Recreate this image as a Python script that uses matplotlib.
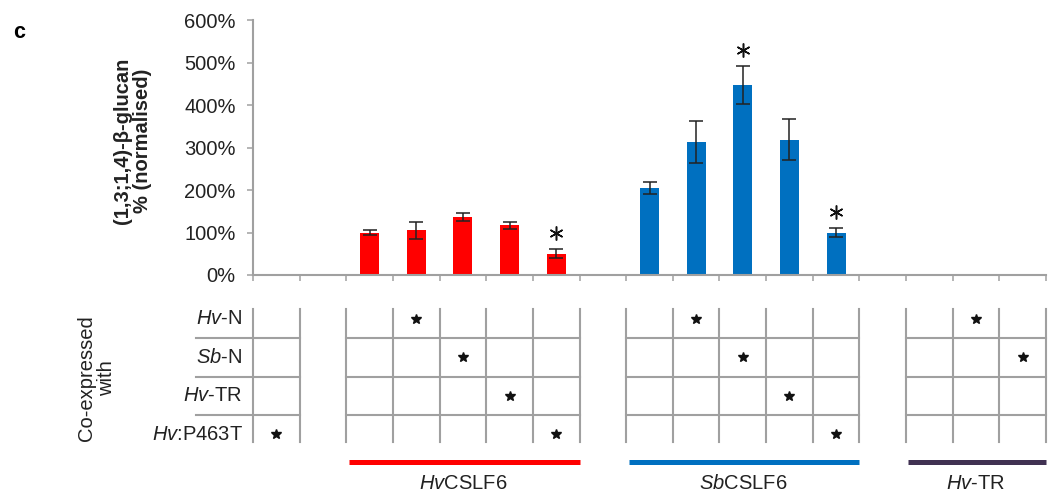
import matplotlib
matplotlib.use('Agg')
import matplotlib.pyplot as plt
import matplotlib.transforms as mtransforms
import numpy as np

plt.rcParams['font.family'] = ['Liberation Sans', 'DejaVu Sans']
plt.rcParams['mathtext.fontset'] = 'custom'
plt.rcParams['mathtext.rm'] = 'Liberation Sans'
plt.rcParams['mathtext.it'] = 'Liberation Sans:italic'

# data (% normalised)
hv_vals = [100, 105, 137, 117, 50]
hv_err = [6, 19, 10, 8, 11]
hv_sig = [False, False, False, False, True]
sb_vals = [206, 313, 448, 319, 100]
sb_err = [14, 49, 44, 49, 10]
sb_sig = [False, False, True, False, True]

row_labels = [r'$\it{Hv}$-N', r'$\it{Sb}$-N', r'$\it{Hv}$-TR', r'$\it{Hv}$:P463T']
# which co-expressed row gets a star in each column (None = nothing)
single_rows = [3]
hv_rows = [None, 0, 1, 2, 3]
sb_rows = [None, 0, 1, 2, 3]
tr_rows = [None, 0, 1]

group_names = [r'$\it{Hv}$CSLF6', r'$\it{Sb}$CSLF6', r'$\it{Hv}$-TR']
group_colors = ['#ff0000', '#0070c0', '#403152']

# column positions along the x axis (gaps between groups)
single_x = [0]
hv_x = list(range(2, 7))
sb_x = list(range(8, 13))
tr_x = list(range(14, 17))
ncol = 17

W, H = 1048, 496
def box(x0, y0, x1, y1):
    return [x0 / W, 1 - y1 / H, (x1 - x0) / W, (y1 - y0) / H]

fig = plt.figure(figsize=(W / 100, H / 100), dpi=100)
ax = fig.add_axes(box(253, 20.5, 1046, 275))
ax2 = fig.add_axes(box(253, 290, 1046, 496))

grid_c = '#a0a0a0'
txt_c = '#222222'
fs = 14.5

# --- bars ---
bw = 0.41
ax.bar(hv_x, hv_vals, bw, color='#ff0000', zorder=2)
ax.bar(sb_x, sb_vals, bw, color='#0070c0', zorder=2)
ax.errorbar(hv_x, hv_vals, yerr=hv_err, fmt='none', ecolor=txt_c,
            elinewidth=1.1, capsize=5, capthick=1.1, zorder=3)
ax.errorbar(sb_x, sb_vals, yerr=sb_err, fmt='none', ecolor=txt_c,
            elinewidth=1.1, capsize=5, capthick=1.1, zorder=3)

# significance asterisks a little above the error bars
up = ax.transData + mtransforms.ScaledTranslation(0, 11.5 / 72, fig.dpi_scale_trans)
for xs, vals, errs, sig in [(hv_x, hv_vals, hv_err, hv_sig), (sb_x, sb_vals, sb_err, sb_sig)]:
    for x, v, e, s in zip(xs, vals, errs, sig):
        if s:
            ax.plot([x], [v + e], marker=(6, 2, 0), ms=10, mew=1.1, color='#111111',
                    transform=up, clip_on=False)

ax.set_xlim(-0.5, ncol - 0.5)
ax.set_ylim(0, 600)
ax.set_yticks(np.arange(0, 601, 100))
ax.set_yticklabels(['%d%%' % v for v in range(0, 601, 100)])
ax.set_xticks(np.arange(-0.5, ncol, 1.0))
ax.set_xticklabels([])
ax.tick_params(axis='y', length=4.5, width=1.1, color=grid_c, pad=8, labelsize=fs, labelcolor=txt_c)
ax.tick_params(axis='x', length=4.5, width=1.1, color=grid_c)
for s in ['top', 'right']:
    ax.spines[s].set_visible(False)
for s in ['left', 'bottom']:
    ax.spines[s].set_color(grid_c)
    ax.spines[s].set_linewidth(1.5)

fig.text(132.5 / W, 1 - 141 / H, '(1,3;1,4)-\u03b2-glucan\n% (normalised)', rotation=90,
         ha='center', va='center', fontsize=fs, fontweight='bold', multialignment='center',
         linespacing=1.1, color=txt_c)
fig.text(19 / W, 1 - 33 / H, 'c', ha='center', va='center', fontsize=fs + 1, fontweight='bold')

# --- co-expression table ---
ax2.set_xlim(-0.5, ncol - 0.5)
ax2.set_ylim(4.604, -0.747)
ax2.axis('off')
top, bot = -0.253, 3.201
lw = 1.5

for xs, rows in [(single_x, single_rows), (hv_x, hv_rows), (sb_x, sb_rows), (tr_x, tr_rows)]:
    left, right = xs[0] - 0.5, xs[-1] + 0.5
    if xs is single_x:
        left = -1.722
    for xb in np.arange(xs[0] - 0.5, xs[-1] + 1, 1.0):
        ax2.plot([xb, xb], [top, bot], color=grid_c, lw=lw, clip_on=False)
    for yb in [0.5, 1.5, 2.5]:
        ax2.plot([left, right], [yb, yb], color=grid_c, lw=lw, clip_on=False)
    sx = [x for x, r in zip(xs, rows) if r is not None]
    sy = [r for r in rows if r is not None]
    ax2.plot(sx, sy, ls='none', marker='*', ms=7, color='#111111')

for i, lab in enumerate(row_labels):
    ax2.annotate(lab, xy=(-0.5, i), xytext=(-7.5, 0), textcoords='offset points',
                 ha='right', va='center', fontsize=fs, color=txt_c, annotation_clip=False)

fig.text(96.5 / W, 1 - 378 / H, 'Co-expressed\nwith', rotation=90, ha='center', va='center',
         fontsize=fs, multialignment='center', color=txt_c, linespacing=1.1)

for xs, name, c in zip([hv_x, sb_x, tr_x], group_names, group_colors):
    ax2.plot([xs[0] - 0.45, xs[-1] + 0.5], [3.72, 3.72], color=c, lw=3.6,
             solid_capstyle='butt', clip_on=False)
    ax2.text(np.mean(xs), 4.29, name, ha='center', va='center', fontsize=fs, color=txt_c)

fig.savefig('out.png', dpi=100)
